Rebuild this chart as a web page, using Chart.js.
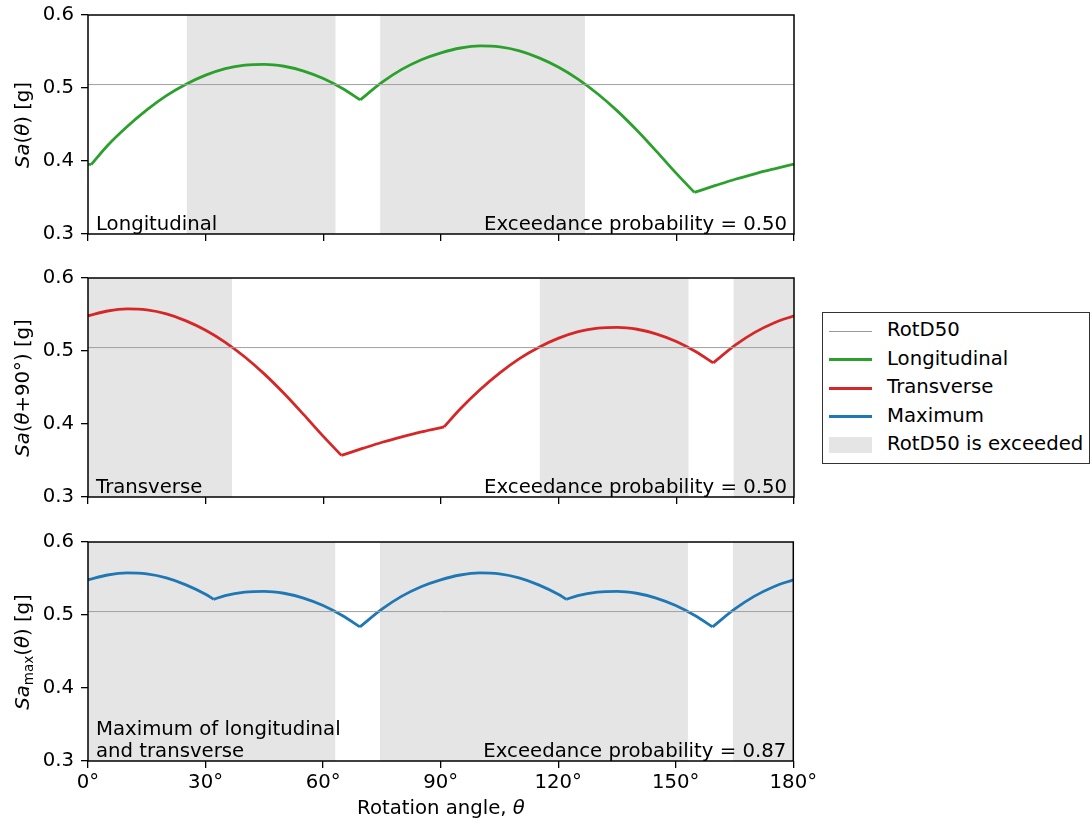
<!DOCTYPE html>
<html>
<head>
<meta charset="utf-8">
<script src="https://cdn.jsdelivr.net/npm/chart.js@4.4.0/dist/chart.umd.min.js"></script>
<style>
  html, body { margin: 0; padding: 0; background: #fff; }
  #wrap { position: relative; width: 1092px; height: 822px; font-family: 'DejaVu Sans', sans-serif; color: #000; }
  canvas { position: absolute; left: 0; }
  .ytitle { position: absolute; left: 23px; font-size: 19.7px; line-height: 1; white-space: nowrap;
            transform: translate(-50%, -50%) rotate(-90deg); }
  .xtitle { position: absolute; left: 441px; top: 798px; font-size: 19.7px; line-height: 1; white-space: nowrap;
            transform: translateX(-50%); }
  sub { font-size: 13.5px; vertical-align: -4px; line-height: 0; }
  #legend { position: absolute; left: 822px; top: 312px; width: 266px; height: 150px;
            border: 1.3px solid #333; background: #fff; font-size: 19.7px; }
  .lrow { position: absolute; left: 0; height: 20px; line-height: 20px; white-space: nowrap; }
  .lsym { position: absolute; left: 6px; width: 43px; }
  .ltxt { position: absolute; left: 64px; top: -1px; }
</style>
</head>
<body>
<div id="wrap">
  <canvas id="pLong" width="820" height="262" style="top:0px"></canvas>
  <canvas id="pTrans" width="820" height="263" style="top:262px"></canvas>
  <canvas id="pMax" width="820" height="297" style="top:525px"></canvas>

  <div class="ytitle" style="top:125px"><i>Sa</i>(<i>θ</i>) [g]</div>
  <div class="ytitle" style="top:388px"><i>Sa</i>(<i>θ</i>+90°) [g]</div>
  <div class="ytitle" style="top:652px"><i>Sa</i><sub>max</sub>(<i>θ</i>) [g]</div>
  <div class="xtitle">Rotation angle, <i>θ</i></div>

  <div id="legend"></div>
</div>
<script>
const FONT = "'DejaVu Sans', sans-serif";
const FS = 19.7;

// Rotation angles (deg) and spectral accelerations (g)
const longAngles = [0, 0.8, 5, 10, 15, 20, 25, 30, 35, 40, 45, 50, 55, 60, 65, 69.4, 75, 80, 85, 90, 95, 100, 105, 110, 115, 120, 125, 130, 135, 140, 145, 150, 154.6, 160, 165, 170, 175, 180];
const longValues = [0.3958, 0.3950, 0.4213, 0.4473, 0.4701, 0.4896, 0.5052, 0.5176, 0.5266, 0.5314, 0.5325, 0.5298, 0.5232, 0.5130, 0.4990, 0.4837, 0.5080, 0.5255, 0.5388, 0.5482, 0.5548, 0.5576, 0.5562, 0.5508, 0.5413, 0.5284, 0.5119, 0.4918, 0.4683, 0.4417, 0.4128, 0.3830, 0.3570, 0.3665, 0.3750, 0.3825, 0.3893, 0.3958];
const longKinks = [0.8, 69.4, 154.6];

const transAngles = [0, 5, 10, 15, 20, 25, 30, 35, 40, 45, 50, 55, 60, 64.6, 70, 75, 80, 85, 90.8, 95, 100, 105, 110, 115, 120, 125, 130, 135, 140, 145, 150, 155, 159.4, 165, 170, 175, 180];
const transValues = [0.5482, 0.5548, 0.5576, 0.5562, 0.5508, 0.5413, 0.5284, 0.5119, 0.4918, 0.4683, 0.4417, 0.4128, 0.3830, 0.3570, 0.3665, 0.3750, 0.3825, 0.3893, 0.3960, 0.4213, 0.4473, 0.4701, 0.4896, 0.5052, 0.5176, 0.5266, 0.5314, 0.5325, 0.5298, 0.5232, 0.5130, 0.4990, 0.4837, 0.5080, 0.5255, 0.5388, 0.5482];
const transKinks = [64.6, 90.8, 159.4];

const maxAngles = [0, 5, 10, 15, 20, 25, 30, 32.1, 35, 40, 45, 50, 55, 60, 65, 69.4, 75, 80, 85, 90, 95, 100, 105, 110, 115, 120, 122.1, 125, 130, 135, 140, 145, 150, 155, 159.4, 165, 170, 175, 180];
const maxValues = [0.5482, 0.5548, 0.5576, 0.5562, 0.5508, 0.5413, 0.5284, 0.5214, 0.5266, 0.5314, 0.5325, 0.5298, 0.5232, 0.5130, 0.4990, 0.4837, 0.5080, 0.5255, 0.5388, 0.5482, 0.5548, 0.5576, 0.5562, 0.5508, 0.5413, 0.5284, 0.5214, 0.5266, 0.5314, 0.5325, 0.5298, 0.5232, 0.5130, 0.4990, 0.4837, 0.5080, 0.5255, 0.5388, 0.5482];
const maxKinks = [32.1, 69.4, 122.1, 159.4];

const rotD50 = 0.5047;

// angle ranges where RotD50 is exceeded
const longExceeded = [[25.2, 63.1], [74.5, 126.7]];
const transExceeded = [[0, 36.7], [115.2, 153.1], [164.6, 180]];
const maxExceeded = [[0, 63.1], [74.5, 153.1], [164.6, 180]];

const xTicks = [0, 30, 60, 90, 120, 150, 180];

const COLORS = { long: '#2ca02c', trans: '#d62728', max: '#1f77b4', rotd: '#a0a0a0', shade: '#e5e5e5' };

// split a curve at its kinks so each smooth arc gets its own spline
function arcs(xs, ys, kinks) {
  const pieces = [];
  let cur = [];
  xs.forEach((x, i) => {
    cur.push({ x, y: ys[i] });
    if (kinks.includes(x)) {
      pieces.push(cur);
      cur = [{ x, y: ys[i] }];
    }
  });
  if (cur.length > 1) pieces.push(cur);
  return pieces;
}

const panelDecor = {
  id: 'panelDecor',
  beforeDatasetsDraw(chart, args, opts) {
    const { ctx, chartArea: a, scales: { x } } = chart;
    ctx.save();
    ctx.fillStyle = COLORS.shade;
    opts.shade.forEach(([s, e]) => {
      const x0 = x.getPixelForValue(s), x1 = x.getPixelForValue(e);
      ctx.fillRect(x0, a.top, x1 - x0, a.bottom - a.top);
    });
    ctx.restore();
  },
  afterDraw(chart, args, opts) {
    const { ctx, chartArea: a } = chart;
    ctx.save();
    ctx.strokeStyle = '#000';
    ctx.lineWidth = 1.5;
    ctx.strokeRect(a.left, a.top, a.right - a.left, a.bottom - a.top);
    ctx.fillStyle = '#000';
    ctx.font = FS + 'px ' + FONT;
    ctx.textBaseline = 'alphabetic';
    ctx.textAlign = 'left';
    const lines = opts.label;
    lines.forEach((t, i) => {
      ctx.fillText(t, a.left + 8, a.bottom - 4 - (lines.length - 1 - i) * 22);
    });
    ctx.textAlign = 'right';
    ctx.fillText('Exceedance probability = ' + opts.prob, a.right - 7, a.bottom - 4);
    ctx.restore();
  }
};

function makePanel(id, angles, values, kinks, color, shade, label, prob, padTop, xHeight, showX) {
  const curveSets = arcs(angles, values, kinks).map(pts => ({
    data: pts,
    borderColor: color,
    borderWidth: 2.8,
    pointRadius: 0,
    cubicInterpolationMode: 'monotone',
    fill: false
  }));
  return new Chart(document.getElementById(id), {
    type: 'line',
    data: {
      datasets: [
        {
          data: [{ x: 0, y: rotD50 }, { x: 180, y: rotD50 }],
          borderColor: COLORS.rotd,
          borderWidth: 1,
          pointRadius: 0,
          fill: false
        },
        ...curveSets
      ]
    },
    options: {
      responsive: false,
      animation: false,
      devicePixelRatio: 1,
      layout: { padding: { top: padTop, right: 26, left: 0, bottom: 0 } },
      plugins: {
        legend: { display: false },
        tooltip: { enabled: false },
        panelDecor: { shade, label, prob }
      },
      scales: {
        x: {
          type: 'linear',
          min: 0,
          max: 180,
          afterBuildTicks: s => { s.ticks = xTicks.map(v => ({ value: v })); },
          ticks: {
            display: showX,
            color: '#000',
            font: { family: FONT, size: FS },
            padding: 3,
            maxRotation: 0,
            callback: v => v + '°'
          },
          grid: { drawOnChartArea: false, drawTicks: true, tickLength: 7, color: '#000', lineWidth: 1.3 },
          border: { display: false },
          afterFit: s => { s.height = xHeight; }
        },
        y: {
          min: 0.3,
          max: 0.6,
          ticks: {
            stepSize: 0.1,
            color: '#000',
            font: { family: FONT, size: FS },
            padding: 7,
            callback: v => v.toFixed(1)
          },
          grid: { drawOnChartArea: false, drawTicks: true, tickLength: 7, color: '#000', lineWidth: 1.3 },
          border: { display: false },
          afterFit: s => { s.width = 88; s.paddingTop = 0; s.paddingBottom = 0; }
        }
      }
    },
    plugins: [panelDecor]
  });
}

makePanel('pLong', longAngles, longValues, longKinks, COLORS.long, longExceeded, ['Longitudinal'], '0.50', 15, 28, false);
makePanel('pTrans', transAngles, transValues, transKinks, COLORS.trans, transExceeded, ['Transverse'], '0.50', 16, 28, false);
makePanel('pMax', maxAngles, maxValues, maxKinks, COLORS.max, maxExceeded, ['Maximum of longitudinal', 'and transverse'], '0.87', 17, 61, true);

// legend
const legendItems = [
  { text: 'RotD50', kind: 'line', color: '#999999', width: 1 },
  { text: 'Longitudinal', kind: 'line', color: COLORS.long, width: 3 },
  { text: 'Transverse', kind: 'line', color: COLORS.trans, width: 3 },
  { text: 'Maximum', kind: 'line', color: COLORS.max, width: 3 },
  { text: 'RotD50 is exceeded', kind: 'patch', color: COLORS.shade }
];
const legend = document.getElementById('legend');
legendItems.forEach((it, i) => {
  const row = document.createElement('div');
  row.className = 'lrow';
  row.style.top = (8 + i * 28.6) + 'px';
  const sym = document.createElement('div');
  sym.className = 'lsym';
  if (it.kind === 'line') {
    sym.style.top = (10 - it.width / 2) + 'px';
    sym.style.height = it.width + 'px';
  } else {
    sym.style.top = '2px';
    sym.style.height = '16px';
  }
  sym.style.background = it.color;
  const txt = document.createElement('span');
  txt.className = 'ltxt';
  txt.textContent = it.text;
  row.appendChild(sym);
  row.appendChild(txt);
  legend.appendChild(row);
});
</script>
</body>
</html>
